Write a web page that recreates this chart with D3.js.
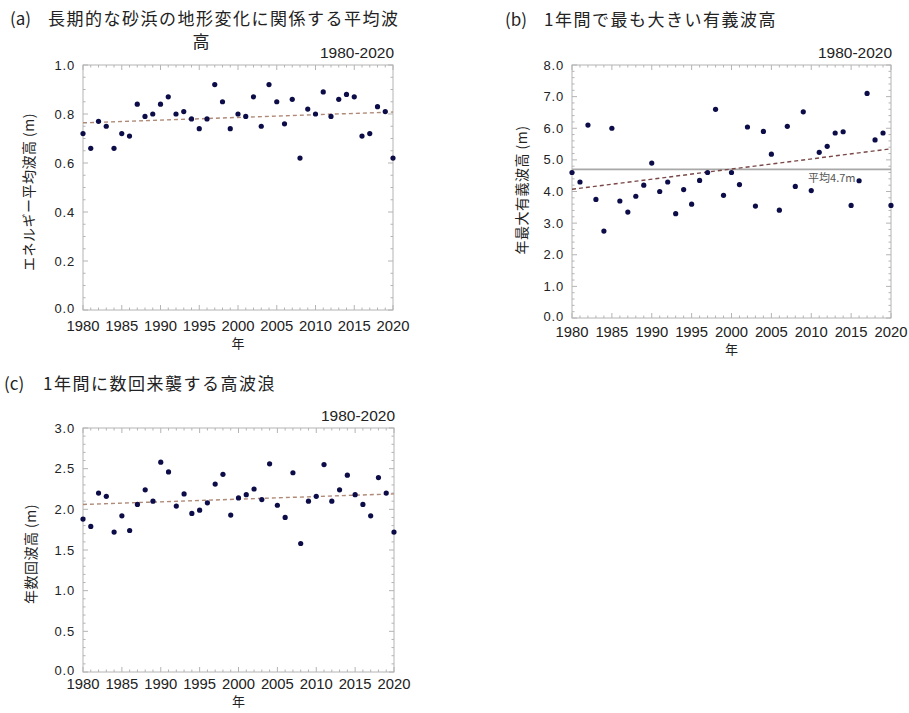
<!DOCTYPE html>
<html><head><meta charset="utf-8">
<script src="https://cdn.jsdelivr.net/npm/d3@7"></script>
<style>
body{margin:0;background:#fff;}
svg{display:block;}
.t{font-family:"Noto Sans CJK JP","Noto Sans",sans-serif;fill:#222;}
.n{font-family:"Liberation Sans",Arial,sans-serif;fill:#222;}
</style></head><body>
<svg id="c" width="909" height="713"></svg>
<script>
// ---- data ----
const years = d3.range(1980, 2021);
const xTickLabels = [1980,1985,1990,1995,2000,2005,2010,2015,2020];
const energyMeanHeight = [0.72,0.66,0.77,0.75,0.66,0.72,0.71,0.84,0.79,0.80,
  0.84,0.87,0.80,0.81,0.78,0.74,0.78,0.92,0.85,0.74,
  0.80,0.79,0.87,0.75,0.92,0.85,0.76,0.86,0.62,0.82,
  0.80,0.89,0.79,0.86,0.88,0.87,0.71,0.72,0.83,0.81,0.62];
const annualMaxHeight = [4.6,4.3,6.1,3.75,2.75,6.0,3.7,3.35,3.85,4.2,
  4.9,4.0,4.3,3.3,4.06,3.6,4.35,4.6,6.6,3.88,
  4.6,4.22,6.04,3.54,5.9,5.18,3.41,6.06,4.16,6.52,
  4.03,5.24,5.43,5.85,5.89,3.56,4.34,7.1,5.63,5.85,3.56];
const severalTimesHeight = [1.88,1.79,2.20,2.16,1.72,1.92,1.74,2.06,2.24,2.10,
  2.58,2.46,2.04,2.19,1.95,1.99,2.08,2.31,2.43,1.93,
  2.14,2.18,2.25,2.12,2.56,2.05,1.90,2.45,1.58,2.10,
  2.16,2.55,2.10,2.24,2.42,2.18,2.06,1.92,2.39,2.20,1.72];
const trendA = [0.764, 0.808];
const trendB = [4.07, 5.35];
const trendC = [2.06, 2.19];
const meanB = 4.7;
const yTicksA = [0,0.2,0.4,0.6,0.8,1.0];
const yTicksB = [0,1,2,3,4,5,6,7,8];
const yTicksC = [0,0.5,1.0,1.5,2.0,2.5,3.0];
const titles = ["長期的な砂浜の地形変化に関係する平均波","1年間で最も大きい有義波高","1年間に数回来襲する高波浪"];
const yLabels = ["エネルギー平均波高 (m)","年最大有義波高 (m)","年数回波高 (m)"];
const periodLabel = "1980-2020";
const xLabel = "年";
const meanLabel = "平均4.7m";

const svg = d3.select("#c");

function panel(o){
  const g = svg.append("g");
  const x = d3.scaleLinear().domain([1980,2020]).range([o.l,o.r]);
  const y = d3.scaleLinear().domain([0,o.ymax]).range([o.b,o.t]);
  const frame = "#b4b4b4";
  g.append("rect").attr("x",o.l).attr("y",o.t).attr("width",o.r-o.l).attr("height",o.b-o.t)
    .attr("fill","#fff").attr("stroke",frame).attr("stroke-width",1);
  years.forEach(v=>{
    const L = (v%5===0)?5:2.5;
    g.append("line").attr("x1",x(v)).attr("x2",x(v)).attr("y1",o.b).attr("y2",o.b-L).attr("stroke",frame);
    g.append("line").attr("x1",x(v)).attr("x2",x(v)).attr("y1",o.t).attr("y2",o.t+L).attr("stroke",frame);
  });
  const minor = d3.range(0, o.ymax+1e-9, o.minor);
  minor.forEach(v=>{
    const isMaj = o.yt.some(m=>Math.abs(m-v)<1e-6);
    const L = isMaj?5:2.5;
    g.append("line").attr("x1",o.l).attr("x2",o.l+L).attr("y1",y(v)).attr("y2",y(v)).attr("stroke",frame);
    g.append("line").attr("x1",o.r).attr("x2",o.r-L).attr("y1",y(v)).attr("y2",y(v)).attr("stroke",frame);
  });
  g.selectAll(".yl").data(o.yt).enter().append("text").attr("class","n")
    .attr("x",o.l-8).attr("y",d=>y(d)+(d===0?3:4.5)).attr("text-anchor","end")
    .attr("font-size",13).attr("letter-spacing",0.8).text(d=>d3.format(".1f")(d));
  g.selectAll(".xl").data(xTickLabels).enter().append("text").attr("class","n")
    .attr("x",d=>x(d)).attr("y",o.xly).attr("text-anchor","middle")
    .attr("font-size",14.5).attr("textLength",33).attr("lengthAdjust","spacingAndGlyphs").text(d=>d);
  g.append("text").attr("class","t").attr("x",(o.l+o.r)/2).attr("y",o.xty).attr("text-anchor","middle")
    .attr("font-size",13).text(xLabel);
  g.append("text").attr("class","t").attr("transform",`translate(${o.ytx},${o.yty}) rotate(-90)`)
    .attr("text-anchor","middle").attr("font-size",14).attr("letter-spacing",0.5).text(o.ylab);
  g.append("text").attr("class","n").attr("x",o.r+1).attr("y",o.t-7).attr("text-anchor","end")
    .attr("font-size",14).attr("textLength",74).attr("lengthAdjust","spacingAndGlyphs").text(periodLabel);
  if(o.mean!==undefined){
    g.append("line").attr("x1",o.l).attr("x2",o.r).attr("y1",y(o.mean)).attr("y2",y(o.mean))
      .attr("stroke","#a8a8a8").attr("stroke-width",1.6);
    g.append("text").attr("class","t").attr("x",x(2009.6)).attr("y",y(o.mean)+13)
      .attr("font-size",11).style("fill","#555").text(meanLabel);
  }
  g.append("line").attr("x1",x(1980)).attr("x2",x(2020)).attr("y1",y(o.trend[0])).attr("y2",y(o.trend[1]))
    .attr("stroke",o.tc).attr("stroke-width",1.4).attr("stroke-dasharray","4,3");
  g.selectAll("circle").data(o.data).enter().append("circle")
    .attr("cx",(d,i)=>x(years[i])).attr("cy",d=>y(d)).attr("r",2.6).attr("fill","#0c0c48");
}

panel({l:83,r:393,t:65,b:310,ymax:1.0,minor:0.05,yt:yTicksA,data:energyMeanHeight,trend:trendA,tc:"#b08a78",
  xly:331,xty:348,ytx:34,yty:192,ylab:yLabels[0]});
panel({l:572,r:891,t:65,b:318,ymax:8,minor:0.2,yt:yTicksB,data:annualMaxHeight,trend:trendB,tc:"#7a4848",mean:meanB,
  xly:337,xty:354,ytx:527,yty:190,ylab:yLabels[1]});
panel({l:83,r:394,t:428,b:672,ymax:3,minor:0.1,yt:yTicksC,data:severalTimesHeight,trend:trendC,tc:"#b08a78",
  xly:689,xty:706,ytx:36,yty:554,ylab:yLabels[2]});

function title(tag,x0,xt,yb,txt){
  svg.append("text").attr("class","t").attr("x",x0).attr("y",yb).attr("font-size",17).text(tag);
  svg.append("text").attr("class","t").attr("x",xt).attr("y",yb).attr("font-size",17).attr("letter-spacing",1.5).text(txt);
}
title("(a)",10,48,25,titles[0].slice(0,19));
svg.append("text").attr("class","t").attr("x",201).attr("y",48).attr("text-anchor","middle").attr("font-size",17).text(titles[0].slice(19)+"高");
title("(b)",505,544,26,titles[1]);
title("(c)",4,43,390,titles[2]);
</script></body></html>
